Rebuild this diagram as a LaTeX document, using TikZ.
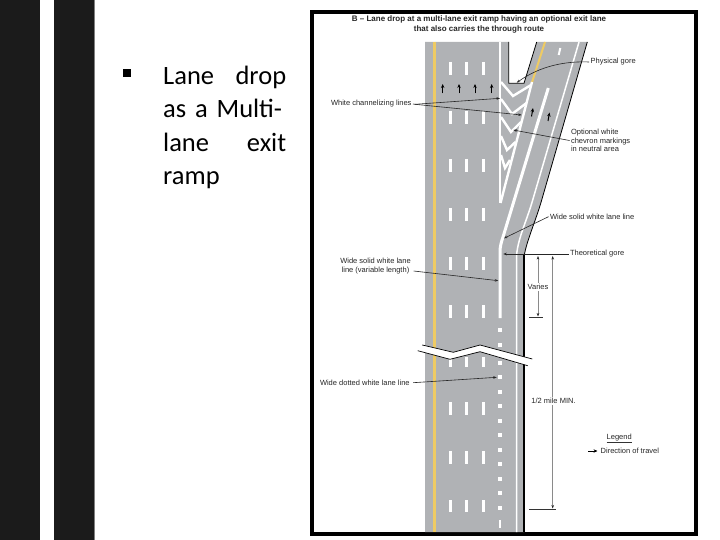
\documentclass[tikz,border=0pt]{standalone}
\usepackage{fontspec}
\setmainfont{Liberation Sans}
\newfontfamily\slidefont{Carlito}
\usetikzlibrary{arrows.meta}
\definecolor{roadgray}{HTML}{B0B2B5}
\definecolor{stripe}{HTML}{1B1B1B}
\definecolor{lineyellow}{HTML}{EFCB63}
\definecolor{dimgray}{HTML}{8A8A8A}
\tikzset{
  lbl/.style={inner sep=0pt,outer sep=1.5pt,font=\fontsize{7.5}{8.6}\selectfont,text=black!85},
  ttl/.style={inner sep=0pt,font=\fontsize{8}{10}\selectfont\bfseries,text=black!85,align=center},
  leader/.style={draw=black!85,line width=0.6pt,-{Stealth[length=3.5pt,width=2.6pt]}},
  plainleader/.style={draw=black!85,line width=0.6pt},
  dimline/.style={draw=dimgray,line width=0.7pt},
  tick/.style={draw=black!80,line width=0.5pt},
  laneline/.style={draw=white,line width=2.5pt},
  chevronline/.style={draw=white,line width=2.4pt,line join=miter},
  travel/.style={draw=black,line width=1pt,-{Stealth[length=4pt,width=3.4pt]}},
  edgeline/.style={draw=black,line width=0.8pt}
}
\begin{document}
\begin{tikzpicture}[x=1pt,y=-1pt]
\useasboundingbox (0,0) rectangle (720,540);
% slide background
\fill[white] (0,0) rectangle (720,540);
\fill[stripe] (0,0) rectangle (40,540);
\fill[stripe] (54,0) rectangle (94,540);
\fill[gray] (94,0) rectangle (95,540);
% slide text
\node[fill=black,minimum size=8pt,inner sep=0pt] (bullet) at (127,73.5) {};
\node[anchor=north west,inner sep=0pt,text width=123pt,align=left,text=black,
      font=\slidefont\fontsize{26.5}{33.5}\selectfont] (body) at (163,65.5)
  {Lane\hfill drop\\as a Multi-\\lane\hfill exit\\ramp};
% frame
\fill[black] (310,10) rectangle (698,536);
\fill[white] (314,14) rectangle (694,532);
% road
\fill[roadgray] (425,42) -- (508.7,42) -- (508.7,83.3) -- (524,83.3) -- (536.7,42) -- (587.3,42)
  -- (541.7,200) .. controls (536,220) and (527,240) .. (524.3,255) -- (524.3,532) -- (425,532) -- cycle;
% road edges
\draw[edgeline] (508.7,42) -- (508.7,83.3) -- (524,83.3) -- (536.7,42);
\draw[edgeline] (587.3,42) -- (541.7,200) .. controls (536,220) and (527,240) .. (524.3,255);
\draw[draw=black,line width=1.8pt] (524.3,254) -- (524.3,532);
% yellow lines
\draw[lineyellow,line width=3pt] (434.7,42) -- (434.7,532);
\draw[lineyellow,line width=2pt] (545,42) -- (531.7,83.3);
% white edge line of the ramp
\draw[white,line width=1.5pt] (579,42) -- (532.7,200) .. controls (527,220) and (518,238) .. (516.6,255) -- (516.6,532);
\draw[white,line width=2pt] (560.3,48) -- (558.7,55);
% lane dashes
\foreach \ya/\yb in {62/75,111/124,159/172,208/221,257/270,305/318,357/367,402/415,451/464,500/512}
  \foreach \xx in {450.3,466.7,483.3}
    \draw[laneline] (\xx,\ya) -- (\xx,\yb);
% neutral area
\draw[white,line width=2.2pt] (500,42) -- (500,203);
\draw[chevronline] (532,82) -- (500.5,203);
\draw[chevronline] (501,82) -- (513,96) -- (531,85);
\draw[chevronline] (501,99) -- (512,114) -- (526.5,103);
\draw[chevronline] (501,117) -- (511,132) -- (521,122);
\draw[chevronline] (501,136) -- (507,150) -- (515.5,142);
\draw[chevronline] (501,155) -- (505,168) -- (510,160);
% wide solid line and dots
\draw[white,line width=3pt] (548.3,88) -- (503,237) .. controls (501,243) and (500,247) .. (500,252) -- (500,318);
\foreach \yy in {330.3,345,363,377.3,392,406,420.7,435.3,450,464.3,479,493.3,508.3}
  \fill[white] (498,\yy-2) rectangle (502,\yy+2);
\draw[white,line width=2.5pt] (500,520) -- (500,528);
% direction arrows on the road
\foreach \xx in {442.7,459,475,491.7}
  \draw[travel] (\xx,93.5) -- (\xx,84);
\draw[travel] (531.5,116.5) -- (533,108);
\draw[travel] (548,121) -- (549.5,112.5);
% break in the road
\fill[white] (422.3,345) -- (453.3,352.3) -- (480,345) -- (532.3,359) -- (527.7,365.7) -- (480,351.7) -- (450,359.3) -- (417.7,350.7) -- cycle;
\draw[black,line width=0.7pt] (422.3,345) -- (453.3,352.3) -- (480,345) -- (532.3,359);
\draw[black,line width=0.7pt] (417.7,350.7) -- (450,359.3) -- (480,351.7) -- (527.7,365.7);
% title
\node[ttl] (title) at (479,24) {B -- Lane drop at a multi-lane exit ramp having an optional exit lane\\that also carries the through route};
% labels
\node[lbl,anchor=west] (physical) at (589.2,62) {Physical gore};
\node[lbl,anchor=west] (channel) at (329.5,104) {White channelizing lines};
\node[lbl,anchor=west,align=left] (optional) at (569.5,140.5) {Optional white\\chevron markings\\in neutral area};
\node[lbl,anchor=west] (widesolid) at (548.5,216.7) {Wide solid white lane line};
\node[lbl,anchor=west] (theo) at (568.5,254) {Theoretical gore};
\node[lbl,align=center,font=\fontsize{7.5}{9.2}\selectfont] (variable) at (375.5,266.3) {Wide solid white lane\\line (variable length)};
\node[lbl,anchor=west] (dotted) at (318.5,382.7) {Wide dotted white lane line};
\node[lbl] (legend) at (619.2,437.3) {Legend};
\node[lbl,anchor=west] (direction) at (599.2,451) {Direction of travel};
\node[lbl] (varies) at (538,287) {Varies};
\node[lbl,fill=white] (halfmile) at (553.5,401) {1/2 mile MIN.};
% leader targets
\coordinate (physT) at (516.7,82.7);
\coordinate (chanA) at (500,98.3);
\coordinate (chanB) at (521.7,115);
\coordinate (optT) at (513.3,130);
\coordinate (wideT) at (504,238.3);
\coordinate (theoT) at (503.3,254);
\coordinate (varT) at (498.3,280.7);
\coordinate (dotT) at (496.7,377.3);
\coordinate (chanS) at (415,104.3);
\coordinate (varTop) at (538,256);
\coordinate (varEnd) at (538,316.5);
\coordinate (halfTop) at (552.7,256);
\coordinate (halfEnd) at (552.7,508.5);
\coordinate (legA) at (588,451);
\coordinate (legB) at (597.5,451);
\coordinate (tickVa) at (529.3,317.3);
\coordinate (tickVb) at (542.7,317.3);
\coordinate (tickHa) at (529,509.3);
\coordinate (tickHb) at (556,509.3);
\coordinate (ulA) at (606.7,442.3);
\coordinate (ulB) at (631.7,442.3);
% leaders
\draw[leader] (physical.west) .. controls (565,61) and (540,66) .. (physT);
\draw[leader] (chanS) -- (chanA);
\draw[leader] (chanS) -- (chanB);
\draw[plainleader] (channel.east) -- (chanS);
\draw[leader] (optional.west) -- (optT);
\draw[leader] (widesolid.west) -- (wideT);
\draw[leader] (theo.west) -- (theoT);
\draw[leader] (variable.east |- 271,271) ++(1.5,0) -- (varT);
\draw[leader] (dotted.east) ++(2,0) -- (dotT);
% dimensions
\draw[dimline,{Stealth[length=3.5pt,width=2.6pt,black!85]}-] (varTop) -- (varies.north);
\draw[dimline,-{Stealth[length=3.5pt,width=2.6pt,black!85]}] (varies.south) -- (varEnd);
\draw[dimline,{Stealth[length=3.5pt,width=2.6pt,black!85]}-] (halfTop) -- (halfmile.north -| halfTop);
\draw[dimline,-{Stealth[length=3.5pt,width=2.6pt,black!85]}] (halfmile.south -| halfTop) -- (halfEnd);
\draw[tick] (tickVa) -- (tickVb);
\draw[tick] (tickHa) -- (tickHb);
% legend
\draw[tick] (ulA) -- (ulB);
\draw[travel] (legA) -- (legB);
\end{tikzpicture}
\end{document}
